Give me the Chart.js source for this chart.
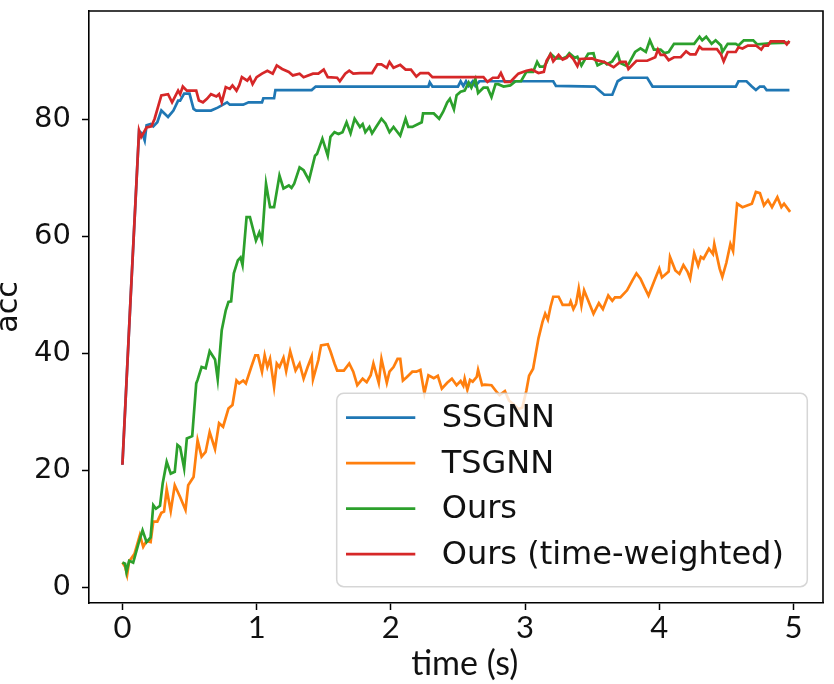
<!DOCTYPE html>
<html>
<head>
<meta charset="utf-8">
<script src="https://cdn.jsdelivr.net/npm/chart.js@4.4.1/dist/chart.umd.min.js"></script>
<style>
  html, body { margin: 0; padding: 0; background: #fff; }
  #wrap { width: 834px; height: 684px; }
</style>
</head>
<body>
<div id="wrap"><canvas id="c" width="834" height="684"></canvas></div>
<script>
// ---- data ----
const seriesLabels = ['SSGNN', 'TSGNN', 'Ours', 'Ours (time-weighted)'];
const seriesColors = ['#1f77b4', '#ff7f0e', '#2ca02c', '#d62728'];

const xTicks = [0, 1, 2, 3, 4, 5];
const yTicks = [0, 20, 40, 60, 80];

const ssgnnX = [0, 0.06, 0.124, 0.15, 0.166, 0.18, 0.21, 0.23, 0.26, 0.29, 0.34, 0.38, 0.415, 0.43, 0.46, 0.50, 0.53, 0.55, 0.66, 0.71, 0.78, 0.80, 0.90, 0.94, 1.04, 1.05, 1.13, 1.14, 1.41, 1.44, 2.28, 2.29, 2.31, 2.50, 2.52, 2.54, 2.56, 2.58, 2.61, 2.63, 2.66, 3.21, 3.23, 3.52, 3.56, 3.59, 3.65, 3.69, 3.73, 3.91, 3.95, 4.57, 4.59, 4.65, 4.69, 4.72, 4.75, 4.78, 4.80, 4.97];
const ssgnnY = [21, 49, 78.0, 77.5, 76.4, 79.0, 79.2, 78.8, 79.5, 81.5, 80.4, 81.5, 83.2, 83.2, 84.4, 84.4, 81.8, 81.5, 81.5, 82.0, 82.9, 82.5, 82.5, 82.9, 82.9, 83.6, 83.6, 85.0, 85.0, 85.6, 85.6, 86.3, 85.6, 85.6, 86.5, 85.7, 86.5, 85.7, 86.5, 85.7, 86.5, 86.5, 85.7, 85.6, 84.8, 84.2, 84.2, 86.5, 87.1, 87.1, 85.6, 85.6, 86.5, 86.5, 85.6, 85.0, 85.6, 85.6, 85.0, 85.0];

const tsgnnX = [0, 0.02, 0.035, 0.05, 0.09, 0.13, 0.155, 0.18, 0.21, 0.23, 0.26, 0.29, 0.31, 0.33, 0.36, 0.39, 0.43, 0.47, 0.49, 0.53, 0.56, 0.59, 0.62, 0.65, 0.69, 0.72, 0.75, 0.79, 0.82, 0.85, 0.87, 0.90, 0.92, 0.96, 0.99, 1.01, 1.04, 1.06, 1.08, 1.10, 1.13, 1.15, 1.17, 1.20, 1.22, 1.25, 1.29, 1.32, 1.35, 1.38, 1.41, 1.42, 1.46, 1.48, 1.53, 1.55, 1.58, 1.60, 1.65, 1.69, 1.72, 1.75, 1.79, 1.82, 1.85, 1.87, 1.91, 1.93, 1.97, 1.99, 2.02, 2.05, 2.07, 2.09, 2.12, 2.16, 2.19, 2.22, 2.25, 2.28, 2.32, 2.35, 2.38, 2.42, 2.455, 2.49, 2.52, 2.54, 2.55, 2.57, 2.59, 2.61, 2.64, 2.65, 2.68, 2.70, 2.75, 2.79, 2.81, 2.85, 2.88, 2.92, 2.95, 2.98, 3.01, 3.03, 3.06, 3.08, 3.10, 3.13, 3.15, 3.17, 3.19, 3.21, 3.25, 3.28, 3.33, 3.34, 3.36, 3.38, 3.40, 3.42, 3.44, 3.48, 3.51, 3.55, 3.58, 3.62, 3.65, 3.67, 3.71, 3.76, 3.80, 3.83, 3.86, 3.89, 3.92, 3.97, 4.00, 4.02, 4.07, 4.08, 4.12, 4.15, 4.18, 4.21, 4.23, 4.26, 4.29, 4.31, 4.33, 4.37, 4.40, 4.41, 4.45, 4.47, 4.50, 4.53, 4.55, 4.58, 4.62, 4.69, 4.72, 4.75, 4.78, 4.81, 4.84, 4.88, 4.91, 4.93, 4.975];
const tsgnnY = [4.3, 3.6, 2.2, 4.5, 5.8, 9.0, 7.0, 8.0, 7.8, 11.3, 11.3, 12.8, 13.0, 16.8, 13.1, 17.5, 15.5, 13.3, 17.5, 18.9, 25.2, 22.4, 23.2, 26.6, 23.7, 28.1, 27.5, 30.6, 31.2, 35.4, 34.9, 35.4, 34.9, 37.7, 39.7, 39.7, 36.9, 39.7, 37.7, 39.1, 34.3, 38.3, 37.7, 39.3, 37.0, 40.4, 37.1, 38.3, 35.7, 37.7, 39.5, 35.6, 38.9, 41.4, 41.6, 40.4, 38.3, 37.1, 37.1, 38.3, 36.9, 34.6, 35.7, 35.1, 36.3, 38.3, 35.0, 39.1, 35.0, 36.9, 37.7, 39.1, 39.1, 35.4, 36.0, 36.9, 36.9, 37.2, 33.2, 36.3, 35.8, 36.2, 34.0, 35.0, 35.7, 34.6, 35.3, 34.5, 35.7, 33.8, 35.5, 35.2, 36.0, 37.2, 34.6, 34.7, 34.6, 33.4, 32.9, 33.6, 32.0, 31.2, 30.5, 30.8, 33.7, 36.2, 37.4, 40.0, 42.6, 45.4, 46.8, 45.8, 48.0, 49.7, 49.7, 48.3, 48.3, 48.9, 47.6, 48.5, 51.1, 48.2, 50.8, 48.5, 46.8, 48.6, 47.6, 49.9, 49.0, 49.6, 49.6, 50.8, 52.5, 53.7, 52.8, 51.3, 49.9, 52.8, 54.5, 53.0, 54.0, 56.5, 54.2, 53.6, 55.1, 54.0, 52.8, 57.1, 55.0, 56.5, 56.2, 57.9, 57.0, 58.7, 54.5, 53.1, 55.5, 58.7, 57.5, 65.6, 65.0, 65.6, 67.6, 67.4, 65.3, 66.2, 65.0, 66.7, 65.0, 65.6, 64.2];

const oursX = [0, 0.02, 0.03, 0.05, 0.08, 0.12, 0.15, 0.18, 0.21, 0.23, 0.25, 0.28, 0.30, 0.33, 0.36, 0.39, 0.41, 0.43, 0.46, 0.48, 0.52, 0.55, 0.56, 0.59, 0.62, 0.65, 0.69, 0.71, 0.74, 0.77, 0.79, 0.81, 0.83, 0.86, 0.88, 0.895, 0.925, 0.95, 0.995, 1.02, 1.04, 1.07, 1.10, 1.13, 1.17, 1.20, 1.24, 1.26, 1.28, 1.32, 1.35, 1.39, 1.435, 1.45, 1.49, 1.53, 1.55, 1.58, 1.61, 1.64, 1.67, 1.70, 1.73, 1.77, 1.79, 1.81, 1.84, 1.86, 1.89, 1.93, 1.96, 1.99, 2.02, 2.07, 2.11, 2.13, 2.16, 2.23, 2.24, 2.32, 2.36, 2.39, 2.42, 2.44, 2.47, 2.49, 2.52, 2.55, 2.58, 2.60, 2.63, 2.65, 2.69, 2.72, 2.75, 2.78, 2.80, 2.84, 2.89, 2.93, 2.97, 3.01, 3.06, 3.09, 3.11, 3.14, 3.16, 3.19, 3.23, 3.28, 3.31, 3.33, 3.37, 3.39, 3.42, 3.47, 3.51, 3.52, 3.54, 3.59, 3.61, 3.65, 3.69, 3.71, 3.75, 3.77, 3.82, 3.86, 3.90, 3.93, 3.96, 4.01, 4.04, 4.07, 4.11, 4.26, 4.30, 4.32, 4.35, 4.39, 4.42, 4.46, 4.47, 4.51, 4.57, 4.59, 4.63, 4.70, 4.73, 4.78, 4.84, 4.97];
const oursY = [4.3, 4.1, 2.7, 4.6, 4.3, 7.6, 9.8, 7.8, 8.6, 14.1, 13.5, 14.0, 17.8, 21.5, 19.5, 19.8, 24.4, 24.0, 20.4, 25.5, 25.9, 34.9, 35.5, 37.7, 37.5, 40.4, 39.0, 35.6, 44.0, 47.4, 48.8, 48.9, 53.7, 55.9, 56.4, 55.1, 63.3, 63.3, 59.3, 60.7, 59.3, 69.0, 65.0, 65.0, 70.4, 68.2, 68.7, 68.3, 69.0, 71.8, 71.3, 69.6, 73.8, 74.1, 76.7, 73.8, 77.0, 77.8, 77.5, 77.8, 79.5, 77.6, 80.1, 78.7, 79.2, 77.8, 78.7, 77.6, 78.7, 80.1, 79.3, 77.8, 78.7, 77.2, 80.1, 78.7, 78.7, 79.5, 81.0, 81.0, 80.1, 81.3, 82.9, 83.5, 81.7, 84.1, 84.7, 84.9, 86.3, 85.4, 86.9, 84.5, 85.4, 85.4, 83.8, 86.0, 86.0, 85.6, 85.8, 86.5, 86.5, 88.1, 88.1, 89.8, 89.0, 89.0, 89.7, 91.2, 90.4, 90.4, 90.7, 91.3, 90.5, 90.7, 89.2, 91.2, 91.3, 90.4, 89.2, 89.8, 89.4, 89.9, 91.3, 89.6, 89.2, 89.4, 91.5, 92.1, 91.5, 93.5, 91.9, 91.9, 91.3, 91.5, 92.9, 92.9, 94.1, 93.5, 94.1, 92.9, 93.5, 92.6, 91.5, 92.9, 92.9, 92.6, 93.5, 93.5, 92.8, 92.9, 93.0, 93.1];

const oursTwX = [0, 0.06, 0.124, 0.14, 0.18, 0.216, 0.24, 0.29, 0.34, 0.37, 0.415, 0.43, 0.45, 0.48, 0.55, 0.57, 0.60, 0.63, 0.66, 0.70, 0.72, 0.74, 0.77, 0.80, 0.82, 0.85, 0.87, 0.89, 0.93, 0.95, 0.97, 1.00, 1.04, 1.08, 1.12, 1.15, 1.19, 1.24, 1.27, 1.32, 1.35, 1.42, 1.46, 1.50, 1.53, 1.60, 1.62, 1.66, 1.69, 1.72, 1.77, 1.86, 1.90, 1.93, 1.97, 1.99, 2.02, 2.07, 2.11, 2.15, 2.19, 2.22, 2.28, 2.31, 2.69, 2.72, 2.76, 2.80, 2.82, 2.85, 2.89, 2.92, 2.95, 3.01, 3.05, 3.10, 3.14, 3.16, 3.19, 3.21, 3.25, 3.28, 3.31, 3.33, 3.36, 3.39, 3.41, 3.50, 3.53, 3.59, 3.66, 3.71, 3.75, 3.77, 3.83, 3.91, 3.97, 3.99, 4.01, 4.04, 4.07, 4.11, 4.16, 4.20, 4.23, 4.27, 4.30, 4.32, 4.43, 4.46, 4.48, 4.51, 4.57, 4.59, 4.62, 4.66, 4.72, 4.76, 4.78, 4.81, 4.83, 4.93, 4.95, 4.97];
const oursTwY = [21, 49, 78.1, 77.0, 78.6, 78.8, 80.1, 84.1, 84.3, 82.9, 84.9, 84.3, 85.6, 84.9, 84.9, 83.2, 82.9, 83.5, 84.3, 83.9, 84.3, 82.9, 85.5, 85.2, 85.8, 84.9, 85.8, 87.2, 86.6, 87.2, 86.0, 87.2, 87.8, 88.3, 87.8, 89.2, 88.6, 88.1, 87.5, 87.8, 87.2, 87.8, 87.8, 88.5, 87.2, 87.1, 86.5, 87.8, 88.3, 87.8, 87.9, 87.9, 89.4, 89.4, 88.8, 89.8, 88.8, 89.3, 88.5, 88.5, 87.3, 87.9, 87.9, 87.2, 87.2, 86.4, 87.1, 87.1, 87.9, 86.4, 86.4, 87.1, 87.8, 88.3, 88.5, 87.9, 88.1, 90.0, 91.1, 89.9, 91.0, 90.2, 90.5, 91.0, 90.3, 89.1, 90.3, 90.4, 90.1, 89.8, 88.9, 89.8, 89.8, 88.6, 90.0, 90.0, 90.6, 91.9, 91.0, 91.0, 90.1, 90.6, 90.6, 91.6, 91.1, 91.1, 92.4, 92.0, 92.0, 91.1, 89.9, 91.5, 91.5, 92.3, 92.1, 92.6, 92.6, 91.9, 92.6, 92.6, 93.3, 93.3, 92.8, 93.4];

// ---- build datasets ----
const xs = [ssgnnX, tsgnnX, oursX, oursTwX];
const ys = [ssgnnY, tsgnnY, oursY, oursTwY];
const datasets = seriesLabels.map((lab, i) => ({
  label: lab,
  data: xs[i].map((x, k) => ({ x: x, y: ys[i][k] })),
  borderColor: seriesColors[i],
  backgroundColor: seriesColors[i],
  borderWidth: 2.7,
  pointRadius: 0,
  tension: 0,
  fill: false,
  order: seriesLabels.length - 1 - i
}));

// ---- plugins: top/right spines and in-plot legend ----
const framePlugin = {
  id: 'frame',
  afterDatasetsDraw(chart) {
    const { ctx, chartArea: a } = chart;
    ctx.save();
    ctx.strokeStyle = '#000';
    ctx.lineWidth = 1.6;
    ctx.beginPath();
    ctx.moveTo(a.left, a.top);
    ctx.lineTo(a.right, a.top);
    ctx.lineTo(a.right, a.bottom);
    ctx.stroke();
    ctx.restore();
  }
};

const legendPlugin = {
  id: 'inLegend',
  afterDatasetsDraw(chart) {
    const { ctx, chartArea: a } = chart;
    const w = 470.6, h = 193.4;
    const x0 = a.right - 15.7 - w, y0 = a.bottom - 16.3 - h;
    ctx.save();
    ctx.beginPath();
    ctx.roundRect(x0, y0, w, h, 7);
    ctx.fillStyle = 'rgba(255,255,255,0.8)';
    ctx.fill();
    ctx.strokeStyle = 'rgba(204,204,204,0.8)';
    ctx.lineWidth = 1.5;
    ctx.stroke();
    const rowGap = 45.5;
    ctx.font = '32px "DejaVu Sans"';
    ctx.textBaseline = 'middle';
    ctx.textAlign = 'left';
    chart.data.datasets.forEach((ds, i) => {
      const ry = y0 + 24.4 + i * rowGap;
      ctx.strokeStyle = ds.borderColor;
      ctx.lineWidth = 2.7;
      ctx.beginPath();
      ctx.moveTo(x0 + 9.3, ry);
      ctx.lineTo(x0 + 78.6, ry);
      ctx.stroke();
      ctx.fillStyle = '#111';
      ctx.fillText(ds.label, x0 + 105, ry + 1);
    });
    ctx.restore();
  }
};

new Chart(document.getElementById('c'), {
  type: 'line',
  data: { datasets: datasets },
  plugins: [framePlugin, legendPlugin],
  options: {
    responsive: false,
    animation: false,
    devicePixelRatio: 1,
    layout: { padding: { top: 11, right: 11, left: 0, bottom: 0 } },
    plugins: { legend: { display: false }, tooltip: { enabled: false } },
    scales: {
      x: {
        type: 'linear',
        min: -0.249,
        max: 5.22,
        afterBuildTicks: s => { s.ticks = xTicks.map(v => ({ value: v })); },
        afterFit: s => { s.height = 81; s.paddingLeft = 0; s.paddingRight = 0; },
        ticks: {
          callback: v => String(v),
          font: { family: 'Lato', size: 31, lineHeight: 1 },
          color: '#111',
          padding: 2,
          maxRotation: 0,
          autoSkip: false
        },
        grid: { drawOnChartArea: false, drawTicks: true, tickLength: 7, tickColor: '#000', tickWidth: 1.5 },
        border: { display: true, color: '#000', width: 1.6 },
        title: { display: true, text: '  time (s)', color: '#111', font: { family: 'Lato', size: 34, lineHeight: 1.15 }, padding: 0 }
      },
      y: {
        type: 'linear',
        min: -2.6,
        max: 98.5,
        afterBuildTicks: s => { s.ticks = yTicks.map(v => ({ value: v })); },
        afterFit: s => { s.width = 89; s.paddingTop = 0; s.paddingBottom = 0; },
        ticks: {
          callback: v => String(v),
          font: { family: 'DejaVu Sans', size: 29 },
          color: '#111',
          padding: 11,
          autoSkip: false
        },
        grid: { drawOnChartArea: false, drawTicks: true, tickLength: 7, tickColor: '#000', tickWidth: 1.5 },
        border: { display: true, color: '#000', width: 1.6 },
        title: { display: true, text: 'acc', color: '#111', font: { family: 'DejaVu Sans', size: 30, lineHeight: 0.6 }, padding: 0 }
      }
    }
  }
});
</script>
</body>
</html>
